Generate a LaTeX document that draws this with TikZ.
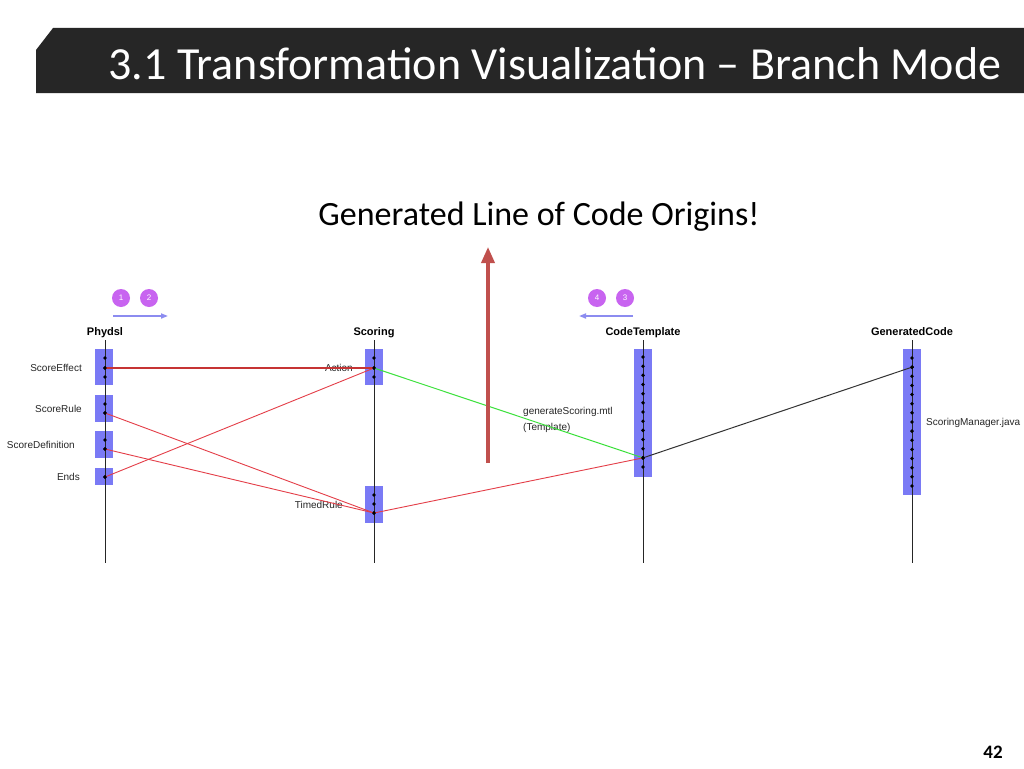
\documentclass[tikz,border=0pt]{standalone}
\usepackage{fontspec}
\setmainfont{Carlito}
\newfontfamily\arialf{Liberation Sans}
\usetikzlibrary{arrows.meta}
\definecolor{barbg}{RGB}{38,38,38}
\definecolor{actbox}{RGB}{122,122,245}
\definecolor{lnred}{RGB}{228,62,72}
\definecolor{lnredd}{RGB}{198,52,52}
\definecolor{lngreen}{RGB}{60,225,60}
\definecolor{bigred}{RGB}{192,80,77}
\definecolor{stepc}{RGB}{200,100,240}
\definecolor{dirc}{RGB}{140,140,240}
\begin{document}
\begin{tikzpicture}[x=1pt,y=-1pt,
  lifehead/.style={font=\arialf\bfseries\fontsize{11}{13}\selectfont, inner sep=0, anchor=base},
  lbl/.style={font=\arialf\fontsize{10}{12}\selectfont, text=black!85, inner sep=0},
  actbar/.style={fill=actbox, draw=none, minimum width=18pt, inner sep=0},
  lifeln/.style={draw=black!85, line width=0.8pt},
  dotn/.style={circle, fill=black, inner sep=0, minimum size=3.8pt},
  redln/.style={draw=lnred, line width=0.9pt},
  stepnum/.style={circle, fill=stepc, minimum size=18pt, inner sep=0, text=white, font=\arialf\fontsize{8}{9}\selectfont},
  dirarrow/.style={draw=dirc, line width=1.6pt, -{Triangle[length=7pt,width=5pt]}}
]
\useasboundingbox (0,0) rectangle (1024,768);
\fill[white] (0,0) rectangle (1024,768);
% title bar
\fill[barbg] (53,28) -- (1024,28) -- (1024,93) -- (36,93) -- (36,50) -- cycle;
\node[text=white, font=\fontsize{46}{52}\selectfont, inner sep=0] (title) at (555,64) {3.1 Transformation Visualization – Branch Mode};
\node[font=\fontsize{34}{40}\selectfont, inner sep=0] (sub) at (539,217) {Generated Line of Code Origins!};
\node[font=\bfseries\fontsize{19}{22}\selectfont, inner sep=0] (pnum) at (993,752) {42};

% step markers
\node[stepnum] (s1) at (121,298) {1};
\node[stepnum] (s2) at (149,298) {2};
\coordinate (d1a) at (113,316); \coordinate (d1b) at (168,316);
\draw[dirarrow] (d1a) -- (d1b);
\node[stepnum] (s4) at (597,298) {4};
\node[stepnum] (s3) at (625,298) {3};
\coordinate (d2a) at (633,316); \coordinate (d2b) at (579,316);
\draw[dirarrow] (d2a) -- (d2b);

% headers
\node[lifehead] (hp) at (105,335) {Phydsl};
\node[lifehead] (hs) at (374,335) {Scoring};
\node[lifehead] (hc) at (643,335) {CodeTemplate};
\node[lifehead] (hg) at (912,335) {GeneratedCode};

% activation bars
\node[actbar, minimum height=36pt] (bp1) at (104,367) {};
\node[actbar, minimum height=27pt] (bp2) at (104,408.5) {};
\node[actbar, minimum height=27pt] (bp3) at (104,444.5) {};
\node[actbar, minimum height=17pt] (bp4) at (104,476.5) {};
\node[actbar, minimum height=36pt] (bs1) at (374,367) {};
\node[actbar, minimum height=37pt] (bs2) at (374,504.5) {};
\node[actbar, minimum height=128pt] (bc1) at (643,413) {};
\node[actbar, minimum height=146pt] (bg1) at (912,422) {};

% lifelines
\foreach \x/\n in {105/p,374/s,643/c,912/g}{
  \coordinate (lt\n) at (\x,340); \coordinate (lb\n) at (\x,563);
  \draw[lifeln] (lt\n) -- (lb\n);
}

% dots
\node[dotn] (pe1) at (105,358) {}; \node[dotn] (pe2) at (105,368) {}; \node[dotn] (pe3) at (105,377) {};
\node[dotn] (pr1) at (105,404) {}; \node[dotn] (pr2) at (105,413) {};
\node[dotn] (pd1) at (105,440) {}; \node[dotn] (pd2) at (105,449) {};
\node[dotn] (pn1) at (105,477) {};
\node[dotn] (sa1) at (374,358) {}; \node[dotn] (sa2) at (374,368) {}; \node[dotn] (sa3) at (374,377) {};
\node[dotn] (st1) at (374,495) {}; \node[dotn] (st2) at (374,504) {}; \node[dotn] (st3) at (374,513) {};
\foreach \i in {1,...,13}{ \node[dotn] (ct\i) at (643,{357+(\i-1)*9.17}) {}; }
\foreach \i in {1,...,15}{ \node[dotn] (g\i) at (912,{358+(\i-1)*9.14}) {}; }

% labels
\node[lbl, anchor=east] (lse) at (82,368) {ScoreEffect};
\node[lbl, anchor=east] (lsr) at (82,408.5) {ScoreRule};
\node[lbl, anchor=east] (lsd) at (75,445) {ScoreDefinition};
\node[lbl, anchor=east] (len) at (80,477) {Ends};
\node[lbl, anchor=east] (lac) at (353,368) {Action};
\node[lbl, anchor=east] (ltr) at (343,505) {TimedRule};
\node[lbl, anchor=west, align=left, font=\arialf\fontsize{10}{16}\selectfont] (ltpl) at (523,420) {generateScoring.mtl\\(Template)};
\node[lbl, anchor=west] (lsm) at (926,423) {ScoringManager.java};

% connectors
\draw[draw=lnredd, line width=1.7pt] (pe2.center) -- (sa2.center);
\draw[redln] (pr2.center) -- (st3.center);
\draw[redln] (pd2.center) -- (st3.center);
\draw[redln] (pn1.center) -- (sa2.center);
\draw[draw=lngreen, line width=1pt] (sa2.center) -- (ct12.center);
\draw[redln] (st3.center) -- (ct12.center);
\draw[draw=black!80, line width=1pt] (ct12.center) -- (g2.center);
% redraw connected dots on top
\foreach \n in {pe2,pr2,pd2,pn1,sa2,st3,ct12,g2}{ \fill (\n) circle (1.9pt); }

% big arrow
\coordinate (baB) at (488,463); \coordinate (baT) at (488,247);
\draw[draw=bigred, line width=3.5pt, -{Triangle[length=16pt,width=13pt]}] (baB) -- (baT);
\end{tikzpicture}
\end{document}
